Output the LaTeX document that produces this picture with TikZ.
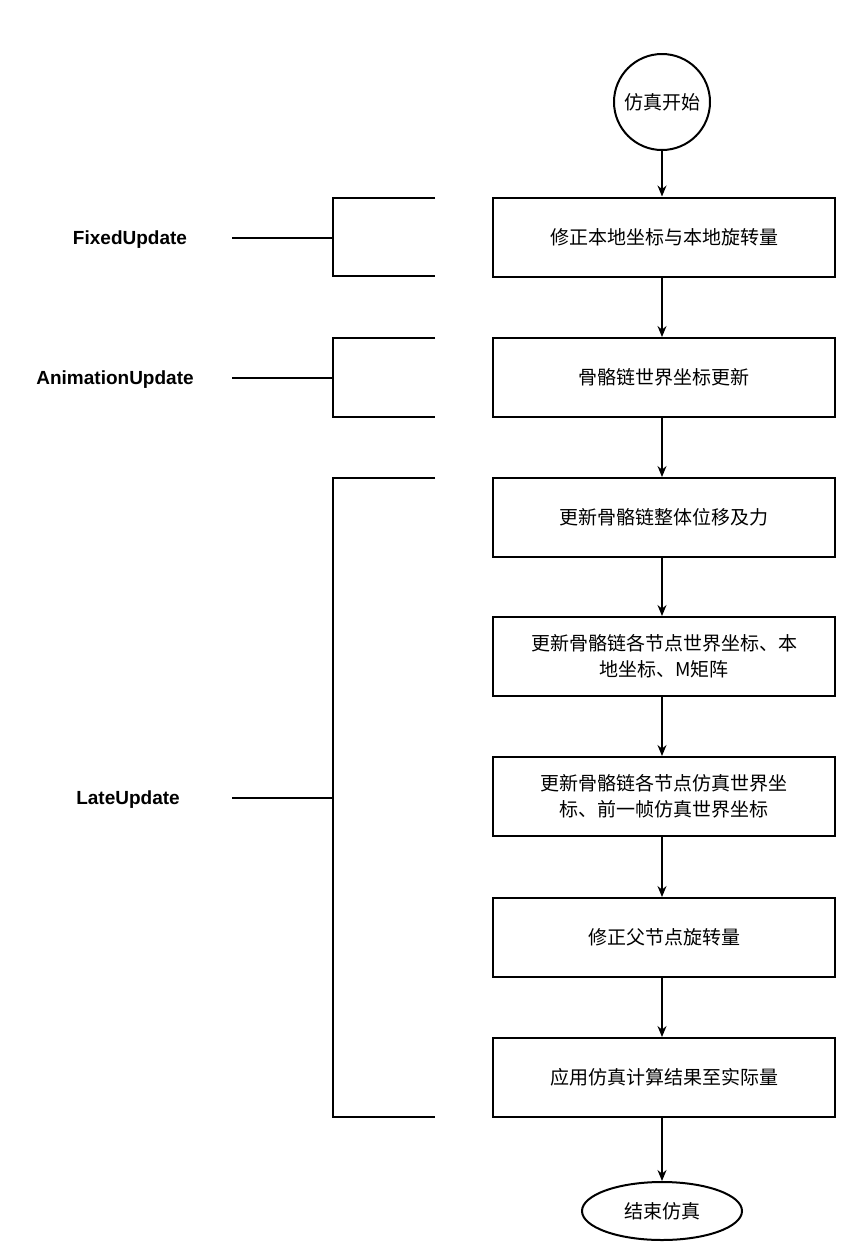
\documentclass[tikz,border=0pt]{standalone}
\usepackage{fontspec}
\setmainfont{Liberation Sans}
\newfontfamily\cjk{Noto Sans CJK SC}
\usetikzlibrary{arrows.meta,shapes.geometric}
\tikzset{
  stage/.style={draw,line width=2pt,minimum width=342pt,minimum height=79pt,align=center,font=\cjk\fontsize{19}{26}\selectfont,inner sep=2pt},
  flow/.style={line width=1.5pt,-{Stealth[length=11pt,width=9pt]}},
  brace/.style={line width=2pt},
  phase/.style={font=\bfseries\fontsize{19}{24}\selectfont}
}
\begin{document}
\begin{tikzpicture}[x=1pt,y=1pt,yscale=-1]
\useasboundingbox (0,0) rectangle (853,1256);

% flow nodes
\node[draw,circle,line width=2pt,minimum size=96pt,font=\cjk\fontsize{19}{24}\selectfont] (start) at (662,102) {仿真开始};
\node[stage] (s1) at (664,237) {修正本地坐标与本地旋转量};
\node[stage] (s2) at (664,377.5) {骨骼链世界坐标更新};
\node[stage] (s3) at (664,517.5) {更新骨骼链整体位移及力};
\node[stage] (s4) at (664,656.5) {更新骨骼链各节点世界坐标、本\\地坐标、M矩阵};
\node[stage] (s5) at (664,796.5) {更新骨骼链各节点仿真世界坐\\标、前一帧仿真世界坐标};
\node[stage] (s6) at (664,937.5) {修正父节点旋转量};
\node[stage] (s7) at (664,1077.5) {应用仿真计算结果至实际量};
\node[draw,ellipse,line width=2pt,minimum width=160pt,minimum height=58pt,font=\cjk\fontsize{19}{24}\selectfont] (stop) at (662,1211) {结束仿真};

% arrows
\draw[flow] (start) -- (start|-s1.north);
\foreach \a/\b in {s1/s2,s2/s3,s3/s4,s4/s5,s5/s6,s6/s7}
  \draw[flow] (\a.south-|start) -- (\b.north-|start);
\draw[flow] (s7.south-|start) -- (stop);

% phase labels
\node[phase] (fixed) at (130,240) {FixedUpdate};
\node[phase] (anim) at (115,380) {AnimationUpdate};
\node[phase] (late) at (128,800) {LateUpdate};

\draw[brace] (435,198) -- (333,198) -- (333,276) -- (435,276);
\draw[brace] (232,238) -- (333,238);
\draw[brace] (435,338) -- (333,338) -- (333,417) -- (435,417);
\draw[brace] (232,378) -- (333,378);
\draw[brace] (435,478) -- (333,478) -- (333,1117) -- (435,1117);
\draw[brace] (232,798) -- (333,798);
\end{tikzpicture}
\end{document}
